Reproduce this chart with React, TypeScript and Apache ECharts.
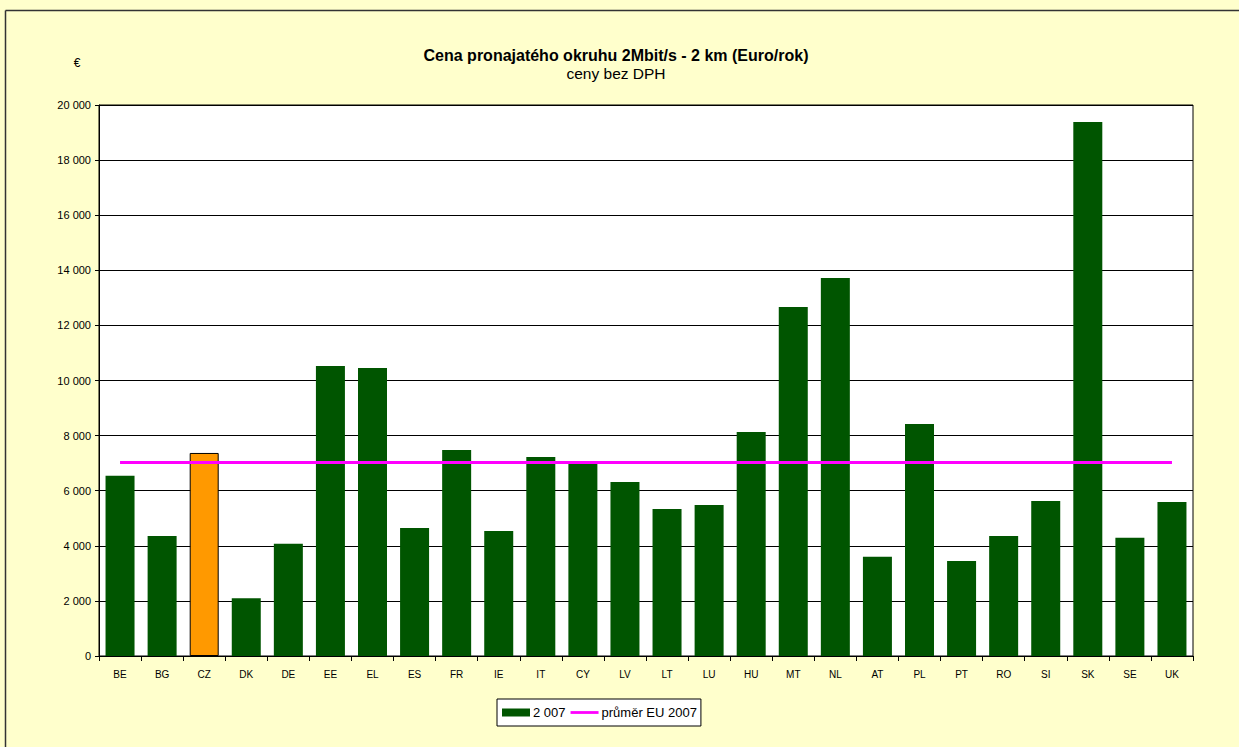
import React, { useEffect, useRef } from "react";
import * as echarts from "echarts";

const categories = ["BE","BG","CZ","DK","DE","EE","EL","ES","FR","IE","IT","CY","LV","LT","LU","HU","MT","NL","AT","PL","PT","RO","SI","SK","SE","UK"];
const values2007 = [6540,4360,7370,2100,4070,10530,10450,4650,7480,4540,7220,7000,6320,5340,5480,8130,12670,13720,3600,8420,3450,4360,5630,19380,4290,5590];
const euAverage = 7020;
const highlighted = "CZ";
const yTicks = { min: 0, max: 20000, interval: 2000 };
const titleText = "Cena pronajatého okruhu 2Mbit/s - 2 km (Euro/rok)";
const subtitleText = "ceny bez DPH";
const unitText = "€";
const seriesNames = ["2 007", "průměr EU 2007"];

const FONT = "'Liberation Sans', Arial, sans-serif";

function fmt(v: number) {
  return String(v).replace(/\B(?=(\d{3})+(?!\d))/g, " ");
}

export default function App() {
  const ref = useRef<HTMLDivElement>(null);
  useEffect(() => {
    document.body.style.margin = "0";
    const chart = echarts.init(ref.current!, null, { renderer: "svg" });
    const barData = values2007.map((v, i) =>
      categories[i] === highlighted
        ? { value: v, itemStyle: { color: "#FF9900", borderColor: "#000", borderWidth: 1 } }
        : { value: v }
    );
    chart.setOption({
      animation: false,
      backgroundColor: "#FFFFCC",
      textStyle: { fontFamily: FONT },
      grid: {
        left: 99, right: 46, top: 105, bottom: 91,
        show: true, backgroundColor: "#FFFFFF", borderColor: "#000", borderWidth: 1,
      },
      graphic: [
        { type: "line", shape: { x1: 5.5, y1: 10.5, x2: 1239, y2: 10.5 }, style: { stroke: "#333", lineWidth: 1.5 }, silent: true },
        { type: "line", shape: { x1: 5.5, y1: 10.5, x2: 5.5, y2: 747 }, style: { stroke: "#333", lineWidth: 1.5 }, silent: true },
        { type: "text", x: 616, y: 55, style: { text: titleText, font: `bold 16px ${FONT}`, fill: "#000", align: "center", verticalAlign: "middle" } },
        { type: "text", x: 616, y: 73, style: { text: subtitleText, font: `15.5px ${FONT}`, fill: "#000", align: "center", verticalAlign: "middle" } },
        { type: "text", x: 77, y: 63, style: { text: unitText, font: `12px ${FONT}`, fill: "#000", align: "center", verticalAlign: "middle" } },
      ],
      legend: {
        left: 497, top: 699,
        data: [
          { name: seriesNames[0], icon: "rect" },
          { name: seriesNames[1], icon: "path://M0 0H30V3H0Z" },
        ],
        backgroundColor: "#FFFFFF",
        borderColor: "#000", borderWidth: 1, borderRadius: 0,
        padding: [7, 4, 7, 5],
        itemGap: 5,
        itemWidth: 28, itemHeight: 8,
        textStyle: { fontSize: 13, color: "#000", fontFamily: FONT, padding: [0, 0, 0, -2] },
      },
      xAxis: {
        type: "category",
        data: categories,
        axisLine: { lineStyle: { color: "#000", width: 1 } },
        axisTick: { show: true, length: 5, lineStyle: { color: "#000" } },
        axisLabel: { color: "#000", fontSize: 10, margin: 13, fontFamily: FONT },
      },
      yAxis: {
        type: "value",
        min: yTicks.min, max: yTicks.max, interval: yTicks.interval,
        axisLine: { show: true, lineStyle: { color: "#000", width: 1 } },
        axisTick: { show: true, length: 4, lineStyle: { color: "#000" } },
        axisLabel: { color: "#000", fontSize: 11, margin: 8, formatter: (v: number) => fmt(v), fontFamily: FONT },
        splitLine: { show: true, lineStyle: { color: "#000", width: 1 } },
      },
      series: [
        {
          name: seriesNames[0],
          type: "bar",
          data: barData,
          barWidth: 29,
          itemStyle: { color: "#005500" },
          z: 2,
        },
        {
          name: seriesNames[1],
          type: "line",
          data: categories.map(() => euAverage),
          symbol: "none",
          lineStyle: { color: "#FF00FF", width: 3 },
          itemStyle: { color: "#FF00FF" },
          z: 3,
        },
      ],
    });
    return () => chart.dispose();
  }, []);
  return <div ref={ref} style={{ width: 1239, height: 747 }} />;
}
